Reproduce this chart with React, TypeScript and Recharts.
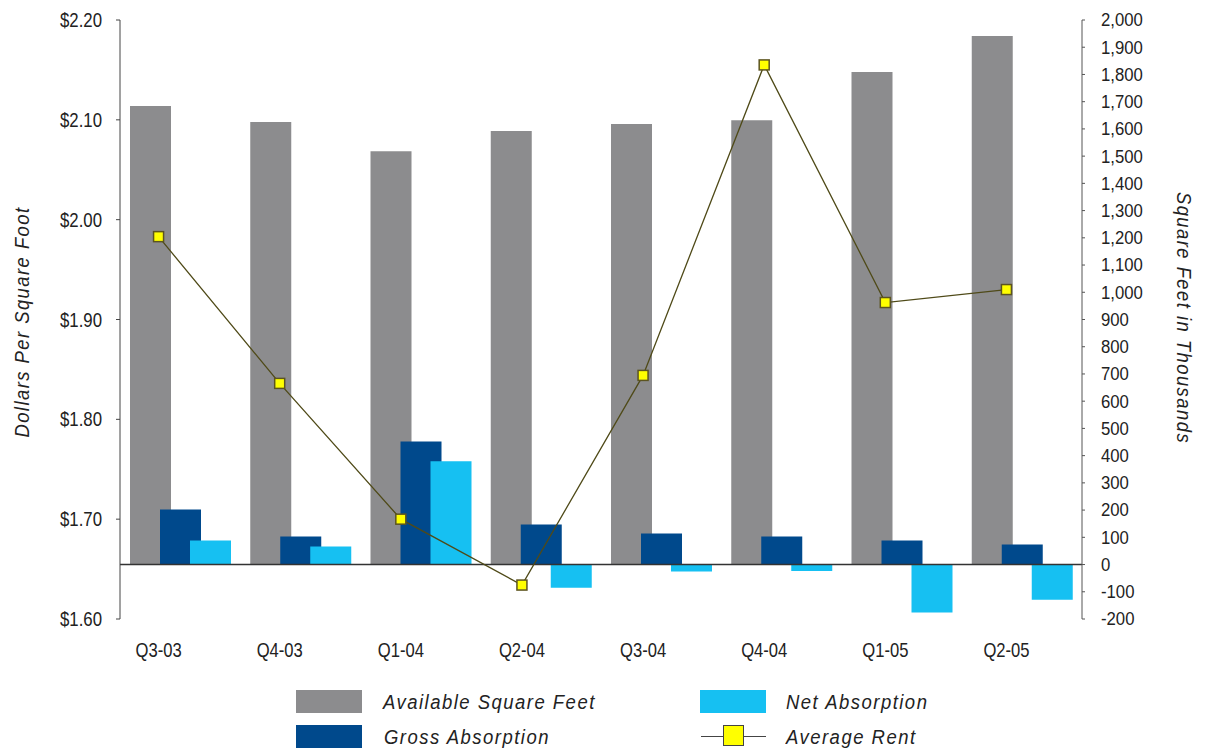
import React from 'react';
import { ComposedChart, Bar, Line, XAxis, YAxis, ReferenceLine } from 'recharts';

const quarters = ['Q3-03', 'Q4-03', 'Q1-04', 'Q2-04', 'Q3-04', 'Q4-04', 'Q1-05', 'Q2-05'];
const availableSqFt = [1684, 1625, 1518, 1592, 1618, 1632, 1809, 1941];
const grossAbsorption = [202, 103, 452, 147, 114, 103, 88, 74];
const netAbsorption = [88, 66, 379, -85, -26, -24, -176, -129];
const averageRent = [1.983, 1.836, 1.7, 1.634, 1.844, 2.155, 1.917, 1.93];
const rentTicks = [1.6, 1.7, 1.8, 1.9, 2.0, 2.1, 2.2];
const sqftTicks = [-200, -100, 0, 100, 200, 300, 400, 500, 600, 700, 800, 900, 1000, 1100, 1200, 1300, 1400, 1500, 1600, 1700, 1800, 1900, 2000];

const data = quarters.map((q, i) => ({
  q,
  available: availableSqFt[i],
  gross: grossAbsorption[i],
  net: netAbsorption[i],
  rent: averageRent[i],
}));

const FONT = '"Liberation Sans", Arial, sans-serif';
const TEXT = '#222222';
const GRAY = '#8c8c8e';
const DARK = '#00498c';
const LIGHT = '#16c0f2';
const LINE = '#4f4a18';

const RentDot = (props: any) => {
  const { cx, cy } = props;
  if (cx == null || cy == null) return null;
  return <rect x={cx - 5} y={cy - 5} width={10} height={10} fill="#ffff00" stroke="#5c5420" strokeWidth={1.5} />;
};

const LeftTick = (props: any) => {
  const { x, y, payload } = props;
  return (
    <text transform={`translate(${x},${y}) scale(0.82,1)`} textAnchor="end" dominantBaseline="central" fontSize={20.5} fill={TEXT} fontFamily={FONT}>
      {`$${Number(payload.value).toFixed(2)}`}
    </text>
  );
};

const RightTick = (props: any) => {
  const { x, y, payload } = props;
  return (
    <text transform={`translate(${x},${y}) scale(0.88,1)`} textAnchor="start" dominantBaseline="central" fontSize={19} fill={TEXT} fontFamily={FONT}>
      {Number(payload.value).toLocaleString('en-US')}
    </text>
  );
};

const BottomTick = (props: any) => {
  const { x, y, payload } = props;
  return (
    <text transform={`translate(${x},${y + 31}) scale(0.83,1)`} textAnchor="middle" dominantBaseline="central" fontSize={20} fill={TEXT} fontFamily={FONT}>
      {payload.value}
    </text>
  );
};

const Narrow = ({ children, style }: { children: React.ReactNode; style: React.CSSProperties }) => (
  <div
    style={{
      position: 'absolute',
      fontFamily: FONT,
      fontStyle: 'italic',
      fontSize: 20,
      letterSpacing: 1.6,
      color: TEXT,
      lineHeight: '24px',
      whiteSpace: 'nowrap',
      transformOrigin: 'left center',
      transform: 'scaleX(0.925)',
      ...style,
    }}
  >
    {children}
  </div>
);

export default function App() {
  return (
    <div style={{ position: 'absolute', left: 0, top: 0, width: 1206, height: 751, background: '#fff', fontFamily: FONT }}>
      <ComposedChart
        width={1206}
        height={751}
        data={data}
        margin={{ top: 20, right: 44, bottom: 92, left: 0 }}
        barGap={-11}
      >
        <XAxis xAxisId="bar" dataKey="q" hide height={0} />
        <XAxis
          xAxisId="line"
          dataKey="q"
          padding={{ left: -22, right: 15 }}
          axisLine={false}
          tickLine={false}
          height={40}
          tickSize={0}
          tickMargin={0}
          tick={<BottomTick />}
          interval={0}
        />
        <YAxis
          yAxisId="left"
          orientation="left"
          width={120}
          domain={[1.6, 2.2]}
          ticks={rentTicks}
          axisLine={{ stroke: '#444' }}
          tickLine={{ stroke: '#444' }}
          tickSize={4}
          tickMargin={14}
          tick={<LeftTick />}
          interval={0}
        />
        <YAxis
          yAxisId="right"
          orientation="right"
          width={80}
          domain={[-200, 2000]}
          ticks={sqftTicks}
          axisLine={{ stroke: '#555' }}
          tickLine={{ stroke: '#555' }}
          tickSize={3}
          tickMargin={16}
          tick={<RightTick />}
          interval={0}
        />
        <ReferenceLine xAxisId="bar" yAxisId="right" y={0} stroke="#333" strokeWidth={1.5} />
        <Bar xAxisId="bar" yAxisId="right" dataKey="available" fill={GRAY} barSize={41} isAnimationActive={false} />
        <Bar xAxisId="bar" yAxisId="right" dataKey="gross" fill={DARK} barSize={41} isAnimationActive={false} />
        <Bar xAxisId="bar" yAxisId="right" dataKey="net" fill={LIGHT} barSize={41} isAnimationActive={false} />
        <Line
          xAxisId="line"
          yAxisId="left"
          dataKey="rent"
          stroke={LINE}
          strokeWidth={1.3}
          dot={<RentDot />}
          activeDot={false}
          isAnimationActive={false}
        />
      </ComposedChart>

      <div
        style={{
          position: 'absolute', left: 22, top: 322, transform: 'translate(-50%, -50%) rotate(-90deg) scaleX(0.92)',
          fontFamily: FONT, fontStyle: 'italic', fontSize: 20, letterSpacing: 1.6, color: TEXT, whiteSpace: 'nowrap',
        }}
      >
        Dollars Per Square Foot
      </div>
      <div
        style={{
          position: 'absolute', left: 1183, top: 318, transform: 'translate(-50%, -50%) rotate(90deg) scaleX(0.92)',
          fontFamily: FONT, fontStyle: 'italic', fontSize: 20, letterSpacing: 1.6, color: TEXT, whiteSpace: 'nowrap',
        }}
      >
        Square Feet in Thousands
      </div>

      <div style={{ position: 'absolute', left: 296, top: 690, width: 66, height: 23, background: GRAY }} />
      <Narrow style={{ left: 383, top: 690 }}>Available Square Feet</Narrow>
      <div style={{ position: 'absolute', left: 700, top: 690, width: 66, height: 23, background: LIGHT }} />
      <Narrow style={{ left: 786, top: 690 }}>Net Absorption</Narrow>
      <div style={{ position: 'absolute', left: 296, top: 725, width: 66, height: 23, background: DARK }} />
      <Narrow style={{ left: 384, top: 725 }}>Gross Absorption</Narrow>
      <div style={{ position: 'absolute', left: 701, top: 736, width: 65, height: 1, background: '#444' }} />
      <div style={{ position: 'absolute', left: 723, top: 725, width: 21, height: 21, background: '#ffff00', border: '1px solid #444', boxSizing: 'border-box' }} />
      <Narrow style={{ left: 786, top: 725 }}>Average Rent</Narrow>
    </div>
  );
}
